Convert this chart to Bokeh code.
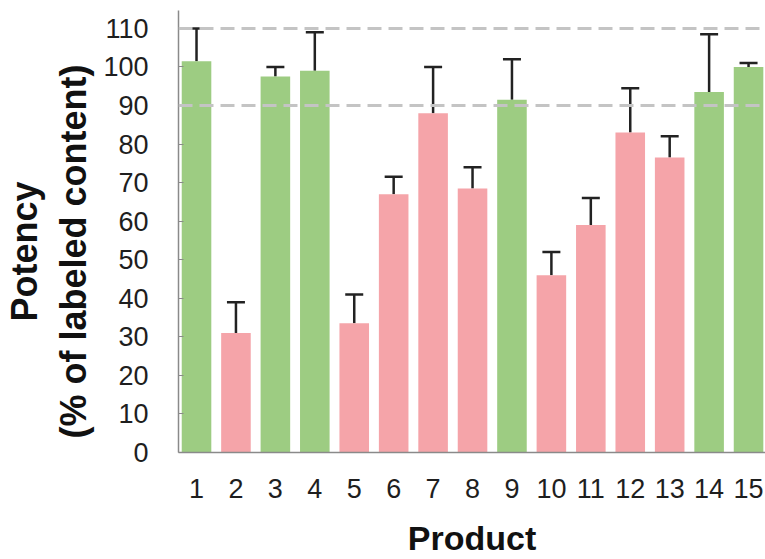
import math
from bokeh.plotting import figure
from bokeh.models import ColumnDataSource, Whisker, TeeHead, Span, FixedTicker, Range1d
from bokeh.embed import file_html
from bokeh.resources import INLINE

products = list(range(1, 16))
potency = [101.5, 31, 97.5, 99, 33.5, 67, 88, 68.5, 91.5, 46, 59, 83, 76.5, 93.5, 100]
error_top = [110, 39, 100, 109, 41, 71.5, 100, 74, 102, 52, 66, 94.5, 82, 108.5, 101]
passes = [True, False, True, True, False, False, False, False, True, False, False, False, False, True, True]
spec_limits = [90, 110]
y_ticks = [0, 10, 20, 30, 40, 50, 60, 70, 80, 90, 100, 110]

GREEN = "#9dcc82"
PINK = "#f5a4a9"
colors = [GREEN if ok else PINK for ok in passes]

src = ColumnDataSource(dict(x=products, top=potency, upper=error_top, color=colors))

FONT = "Liberation Sans"
NB = "\u00a0" * 4

p = figure(width=765, height=559, output_backend="svg", toolbar_location=None,
           x_range=Range1d(0.543, 15.43), y_range=Range1d(0, 114.65),
           min_border_left=178, min_border_right=0, min_border_top=10, min_border_bottom=106)
p.outline_line_color = None
p.xgrid.visible = False
p.ygrid.visible = False
p.background_fill_color = "white"
p.border_fill_color = "white"

p.vbar(x="x", top="top", width=0.75, color="color", source=src, line_color=None)

wh = Whisker(base="x", upper="upper", lower="top", source=src,
             line_color="#222222", line_width=2.5,
             upper_head=TeeHead(size=18, line_color="#222222", line_width=2.5),
             lower_head=None)
p.add_layout(wh)

for lim in spec_limits:
    p.add_layout(Span(location=lim, dimension="width", line_color="#c4c4c4",
                      line_width=3, line_dash="14 7"))

# axes
p.yaxis.ticker = FixedTicker(ticks=y_ticks)
p.xaxis.ticker = FixedTicker(ticks=products)
for ax in (p.xaxis[0], p.yaxis[0]):
    ax.axis_line_color = "#8a8a8a"
    ax.axis_line_width = 1.5
    ax.major_label_text_font = FONT
    ax.major_label_text_font_size = "27px"
    ax.major_label_text_color = "#1e1e1e"
    ax.minor_tick_line_color = None
    ax.axis_label_text_font = FONT
    ax.axis_label_text_font_style = "bold"
    ax.axis_label_text_color = "#111111"

p.yaxis.major_tick_in = 5
p.yaxis.major_tick_out = 0
p.yaxis.major_tick_line_color = "#8a8a8a"
p.yaxis.major_label_standoff = 30
p.yaxis.axis_label = "Potency" + NB + "\n(% of labeled content)" + NB
p.yaxis.axis_label_text_font_size = "36px"
p.yaxis.axis_label_standoff = 6

p.xaxis.major_tick_line_color = None
p.xaxis.major_label_standoff = 20
p.xaxis.axis_label = "Product"
p.xaxis.axis_label_text_font_size = "34px"
p.xaxis.axis_label_standoff = 18

open("out.html", "w").write(file_html(p, INLINE))
